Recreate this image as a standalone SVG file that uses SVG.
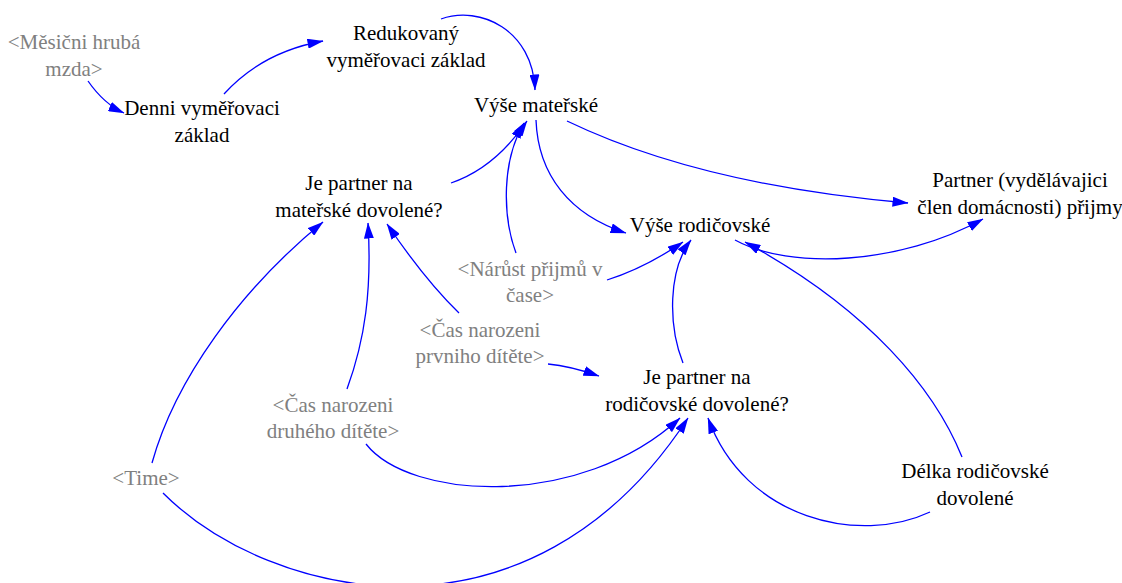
<svg xmlns="http://www.w3.org/2000/svg" width="1122" height="583" viewBox="0 0 1122 583">
<style>
text{font-family:"Liberation Serif","Times New Roman",serif;font-size:21px;text-anchor:middle;fill:#000}
.sh text{fill:#808080}
.c path{fill:none;stroke:#0000ff;stroke-width:1.3;marker-end:url(#ah)}
</style>
<defs>
<marker id="ah" viewBox="0 0 16 10" refX="15.5" refY="5" markerWidth="16" markerHeight="10" markerUnits="userSpaceOnUse" orient="auto">
<path d="M0,0 L16,5 L0,10 z" fill="#0000ff"/>
</marker>
</defs>
<rect width="1122" height="583" fill="#fff"/>
<g id="connectors" class="c">
<path d="M88,81 Q104,104 124,113"/>
<path d="M224,94 Q262,52 323,41"/>
<path d="M441,19 C480,5 533,30 535,90"/>
<path d="M451,183 Q495,168 527,121"/>
<path d="M516,253 C502,215 502,160 524,123"/>
<path d="M536,120 C538,175 570,215 626,233"/>
<path d="M567,121 Q700,185 908,203"/>
<path d="M735,240 C790,270 900,265 983,219"/>
<path d="M962,457 C935,390 870,310 745,242"/>
<path d="M607,280 Q645,268 683,242"/>
<path d="M683,363 C668,325 668,270 691,240"/>
<path d="M548,364 Q570,366 599,376"/>
<path d="M459,313 Q425,280 387,224"/>
<path d="M347,389 C365,340 372,290 368,223"/>
<path d="M152,463 C175,380 240,290 323,222"/>
<path d="M366,444 C410,500 580,510 680,418"/>
<path d="M163,493 C270,600 530,660 688,418"/>
<path d="M930,512 C860,545 745,520 708,418"/>
</g>
<g id="mesicni-hruba-mzda" class="sh"><text x="74" y="49">&lt;Měsični hrubá</text><text x="74" y="76">mzda&gt;</text></g>
<g id="denni-vymerovaci-zaklad"><text x="202" y="115">Denni vyměřovaci</text><text x="202" y="142">základ</text></g>
<g id="redukovany-vymerovaci-zaklad"><text x="406" y="40">Redukovaný</text><text x="406" y="67">vyměřovaci základ</text></g>
<g id="vyse-materske"><text x="536" y="112">Výše mateřské</text></g>
<g id="je-partner-na-materske"><text x="359" y="190">Je partner na</text><text x="359" y="217">mateřské dovolené?</text></g>
<g id="vyse-rodicovske"><text x="700" y="232">Výše rodičovské</text></g>
<g id="partner-prijmy"><text x="1020" y="187">Partner (vydělávajici</text><text x="1020" y="214">člen domácnosti) přijmy</text></g>
<g id="narust-prijmu" class="sh"><text x="530" y="276">&lt;Nárůst přijmů v</text><text x="530" y="302">čase&gt;</text></g>
<g id="cas-narozeni-prvniho" class="sh"><text x="480" y="337">&lt;Čas narozeni</text><text x="480" y="363">prvniho dítěte&gt;</text></g>
<g id="je-partner-na-rodicovske"><text x="697" y="384">Je partner na</text><text x="697" y="411">rodičovské dovolené?</text></g>
<g id="cas-narozeni-druheho" class="sh"><text x="333" y="412">&lt;Čas narozeni</text><text x="333" y="438">druhého dítěte&gt;</text></g>
<g id="time" class="sh"><text x="146" y="485">&lt;Time&gt;</text></g>
<g id="delka-rodicovske-dovolene"><text x="975" y="478">Délka rodičovské</text><text x="975" y="505">dovolené</text></g>
</svg>
